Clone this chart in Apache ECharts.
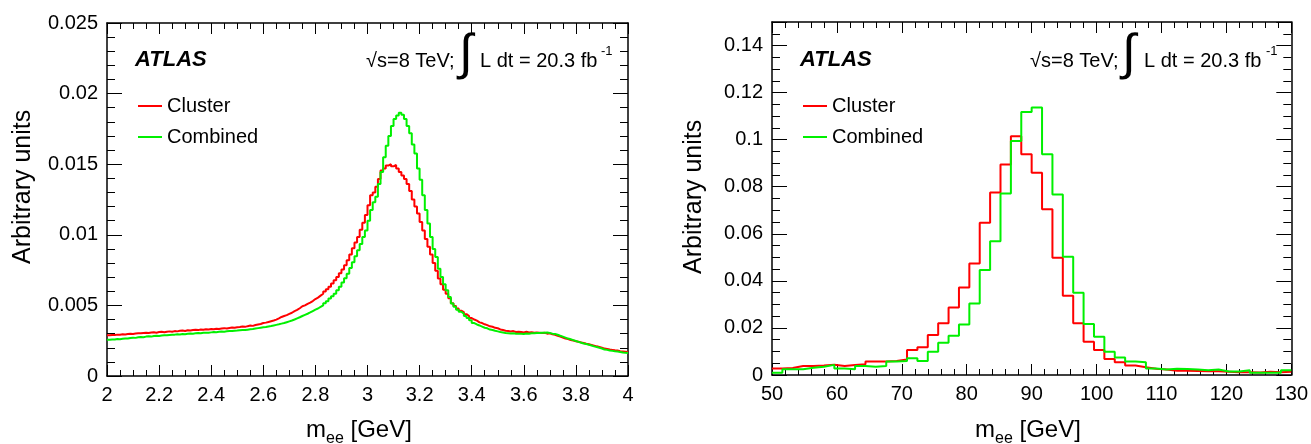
<!DOCTYPE html>
<html>
<head>
<meta charset="utf-8">
<script src="https://cdn.jsdelivr.net/npm/echarts@6/dist/echarts.min.js"></script>
<style>
html,body{margin:0;padding:0;background:#fff;}
#chart{width:1311px;height:444px;}
</style>
</head>
<body>
<div id="chart"></div>
<script>
// ---------------- DATA ----------------
const seriesNames = ['Cluster', 'Combined'];

// J/psi panel: 200 bins of 0.01 GeV from 2.0 to 4.0
const leftBinStart = 2.0;
const leftBinWidth = 0.01;
const leftCluster = [
0.00288,0.00291,0.00290,0.00293,0.00292,0.00295,0.00294,0.00297,0.00299,0.00297,0.00301,0.00303,
0.00302,0.00305,0.00307,0.00304,0.00308,0.00310,0.00307,0.00311,0.00313,0.00310,0.00314,0.00316,0.00313,
0.00318,0.00316,0.00320,0.00322,0.00319,0.00324,0.00322,0.00326,0.00328,0.00325,0.00329,0.00327,0.00331,
0.00330,0.00333,0.00331,0.00335,0.00333,0.00337,0.00339,0.00336,0.00340,0.00343,0.00341,0.00345,
0.00347,0.00350,0.00348,0.00353,0.00357,0.00355,0.00361,0.00365,0.00368,
0.00375,0.00378,0.00383,0.00388,0.00393,0.00399,0.00408,
0.00418,0.00425,0.00431,0.00440,0.00448,0.00459,0.00468,0.00480,
0.00494,0.00500,0.00511,0.00520,0.00531,0.00545,0.00555,0.00569,
0.00583,0.00598,0.00615,0.00632,0.00655,
0.00678,0.00701,0.00728,0.00755,0.00785,
0.00820,0.00860,0.00905,0.00945,
0.00985,0.01035,0.01085,
0.01140,0.01210,
0.01280,0.01300,0.01340,0.01395,
0.01455,0.01470,0.01490,
0.01500,0.01485,0.01495,0.01470,
0.01445,0.01420,0.01395,
0.01360,0.01310,
0.01250,0.01200,
0.01150,0.01090,
0.01030,0.00970,
0.00915,0.00860,
0.00800,0.00745,
0.00690,0.00650,
0.00610,
0.00583,0.00550,
0.00515,0.00495,0.00478,0.00462,
0.00453,0.00438,0.00425,0.00410,
0.00400,0.00392,0.00380,0.00375,0.00366,0.00360,
0.00352,0.00349,0.00341,0.00338,0.00330,0.00326,
0.00320,0.00318,0.00315,0.00318,0.00312,0.00314,
0.00312,0.00309,0.00313,0.00308,0.00310,0.00306,0.00308,
0.00307,0.00304,0.00306,0.00300,0.00302,
0.00295,0.00292,0.00285,0.00280,0.00272,
0.00265,0.00262,0.00255,0.00251,0.00246,0.00242,0.00238,
0.00234,0.00229,0.00225,0.00220,0.00215,0.00210,0.00206,0.00201,
0.00194,0.00192,0.00188,0.00185,0.00182,0.00180,0.00176,0.00174,0.00172,0.00170
];
const leftCombined = [
0.00256,0.00259,0.00258,0.00262,0.00261,0.00264,0.00266,0.00265,0.00269,0.00271,0.00270,0.00274,
0.00276,0.00275,0.00279,0.00281,0.00279,0.00283,0.00285,0.00284,0.00287,0.00289,0.00288,0.00291,0.00292,
0.00293,0.00295,0.00294,0.00297,0.00296,0.00299,0.00301,0.00300,0.00302,0.00304,0.00303,0.00306,0.00307,
0.00307,0.00309,0.00311,0.00310,0.00313,0.00315,0.00314,0.00317,0.00319,0.00318,0.00321,0.00322,
0.00324,0.00326,0.00325,0.00328,0.00331,0.00333,0.00336,0.00339,0.00342,
0.00345,0.00347,0.00351,0.00354,0.00358,0.00362,0.00366,
0.00371,0.00375,0.00381,0.00387,0.00393,0.00400,0.00408,0.00416,
0.00425,0.00433,0.00441,0.00450,0.00460,0.00470,0.00478,0.00489,
0.00500,0.00515,0.00530,0.00548,0.00565,
0.00583,0.00608,0.00632,0.00662,0.00692,
0.00725,0.00765,0.00805,0.00848,
0.00890,0.00935,0.00985,
0.01030,0.01100,
0.01175,0.01230,0.01270,0.01360,
0.01445,0.01550,0.01630,
0.01700,0.01770,0.01820,0.01845,
0.01865,0.01850,0.01820,
0.01770,0.01720,
0.01640,0.01575,
0.01470,0.01390,
0.01280,0.01175,
0.01080,0.00985,
0.00900,0.00843,
0.00760,0.00701,
0.00650,
0.00607,0.00560,
0.00513,0.00490,0.00470,0.00455,
0.00442,0.00425,0.00410,0.00395,
0.00375,0.00365,0.00358,0.00350,0.00342,0.00338,
0.00329,0.00326,0.00320,0.00316,0.00311,0.00308,
0.00305,0.00303,0.00301,0.00302,0.00300,0.00299,
0.00300,0.00298,0.00301,0.00300,0.00303,0.00302,0.00304,
0.00305,0.00307,0.00306,0.00308,0.00305,
0.00300,0.00298,0.00292,0.00285,0.00279,
0.00272,0.00265,0.00260,0.00254,0.00248,0.00242,0.00236,
0.00230,0.00226,0.00221,0.00216,0.00210,0.00205,0.00200,0.00195,
0.00187,0.00185,0.00181,0.00178,0.00175,0.00173,0.00170,0.00167,0.00165,0.00163
];

// Z panel: 50 bins of 1.6 GeV from 50 to 130
const rightBinStart = 50;
const rightBinWidth = 1.6;
const rightCluster = [
0.0028,0.0030,0.0038,0.0038,0.0040,0.0044,0.0038,0.0042,0.0046,0.0057,
0.0057,0.0060,0.0066,0.0106,0.0118,0.0170,0.0220,0.0287,0.0372,0.0474,
0.0647,0.0776,0.0895,0.1015,0.0938,0.0859,0.0704,0.0498,0.0337,0.0220,
0.0141,0.0106,0.0068,0.0054,0.0040,0.0033,0.0027,0.0023,0.0018,0.0018,
0.0017,0.0016,0.0016,0.0014,0.0012,0.0012,0.0011,0.0014,0.0012,0.0014
];
const rightCombined = [
0.0010,0.0024,0.0024,0.0031,0.0035,0.0043,0.0028,0.0024,0.0038,0.0035,
0.0038,0.0057,0.0060,0.0071,0.0060,0.0099,0.0137,0.0167,0.0215,0.0304,
0.0446,0.0568,0.0771,0.0994,0.1118,0.1137,0.0938,0.0767,0.0502,0.0350,
0.0217,0.0163,0.0099,0.0074,0.0057,0.0054,0.0028,0.0023,0.0027,0.0026,
0.0023,0.0020,0.0023,0.0015,0.0015,0.0020,0.0010,0.0010,0.0010,0.0020
];

// axis ranges / ticks
const leftX = {min: 2, max: 4, interval: 0.2, minor: 4};
const leftY = {min: 0, max: 0.025, interval: 0.005, minor: 5};
const rightX = {min: 50, max: 130, interval: 10, minor: 5};
const rightY = {min: 0, max: 0.15, interval: 0.02, minor: 4};

const xTitleText = ['m', 'ee', ' [GeV]'];
const yTitleText = 'Arbitrary units';
const atlasText = 'ATLAS';
const energyText = ['\u221As=8 TeV;', '\u222B', 'L dt = 20.3 fb', '-1'];

// ---------------- CHART ----------------
const FONT = '"Liberation Sans", Arial, Helvetica, sans-serif';
const RED = '#ff0000', GREEN = '#00f000';

function steps(start, w, vals) {
  const pts = vals.map((v, i) => [+(start + i * w).toFixed(4), v]);
  pts.push([+(start + vals.length * w).toFixed(4), vals[vals.length - 1]]);
  return pts;
}

function axis(kind, gridIndex, cfg, position, showLabel) {
  const isX = kind === 'x';
  return {
    type: 'value', gridIndex, position,
    min: cfg.min, max: cfg.max, interval: cfg.interval,
    axisLine: {show: true, onZero: false, lineStyle: {color: '#000', width: 1.5}},
    axisTick: {show: true, inside: true, length: isX ? 11 : 15, lineStyle: {color: '#000', width: 1}},
    minorTick: {show: true, splitNumber: cfg.minor, length: isX ? 6 : 8, lineStyle: {color: '#000', width: 1}},
    splitLine: {show: false},
    axisLabel: {show: showLabel, color: '#000', fontSize: 20, fontFamily: FONT, margin: 9,
                showMaxLabel: !(cfg === rightY)}
  };
}

function histSeries(name, color, xi, yi, data) {
  return {
    name, type: 'line', step: 'end', xAxisIndex: xi, yAxisIndex: yi,
    data, showSymbol: false, symbol: 'none', color,
    lineStyle: {color, width: 2}, itemStyle: {color}, animation: false, silent: true
  };
}

function legend(left) {
  return {
    data: seriesNames, orient: 'vertical', left, top: 96, icon: 'rect', padding: 0,
    itemWidth: 24, itemHeight: 2, itemGap: 11, selectedMode: false,
    textStyle: {fontSize: 20, color: '#000', fontFamily: FONT}
  };
}

function texts(cfg) {
  const els = [];
  els.push({type: 'text', left: cfg.atlasX, top: 49, style: {text: atlasText, font: 'italic bold 22px ' + FONT, fill: '#000'}});
  els.push({type: 'text', left: cfg.sqrtX, top: 51, style: {text: energyText[0], font: '20px ' + FONT, fill: '#000'}});
  els.push({type: 'text', left: cfg.intX, top: 30, style: {text: energyText[1], font: '50px ' + FONT, fill: '#000'}});
  els.push({type: 'text', left: cfg.lX, top: 51, style: {text: energyText[2], font: '20px ' + FONT, fill: '#000'}});
  els.push({type: 'text', left: cfg.supX, top: 45, style: {text: energyText[3], font: '13px ' + FONT, fill: '#000'}});
  els.push({type: 'text', left: cfg.xtX, top: 418, style: {
    text: '{m|' + xTitleText[0] + '}{s|' + xTitleText[1] + '}{m|' + xTitleText[2] + '}',
    rich: {m: {fontSize: 24, fontFamily: FONT, fill: '#000', verticalAlign: 'top', lineHeight: 28},
           s: {fontSize: 16, fontFamily: FONT, fill: '#000', verticalAlign: 'top', lineHeight: 28, padding: [13, 0, 0, 0]}}
  }});
  els.push({type: 'text', x: cfg.ytX, y: cfg.ytY, rotation: Math.PI / 2, style: {
    text: yTitleText, font: '25px ' + FONT, fill: '#000', align: 'left', verticalAlign: 'middle'}});
  return els;
}

const chart = echarts.init(document.getElementById('chart'), null, {renderer: 'canvas'});
chart.setOption({
  backgroundColor: '#fff',
  animation: false,
  grid: [
    {left: 107, right: 683, top: 23, bottom: 68},
    {left: 772, right: 19, top: 22, bottom: 69}
  ],
  xAxis: [
    axis('x', 0, leftX, 'bottom', true),
    axis('x', 0, leftX, 'top', false),
    axis('x', 1, rightX, 'bottom', true),
    axis('x', 1, rightX, 'top', false)
  ],
  yAxis: [
    axis('y', 0, leftY, 'left', true),
    axis('y', 0, leftY, 'right', false),
    axis('y', 1, rightY, 'left', true),
    axis('y', 1, rightY, 'right', false)
  ],
  legend: [legend(138), legend(803)],
  series: [
    histSeries(seriesNames[0], RED, 0, 0, steps(leftBinStart, leftBinWidth, leftCluster)),
    histSeries(seriesNames[1], GREEN, 0, 0, steps(leftBinStart, leftBinWidth, leftCombined)),
    histSeries(seriesNames[0], RED, 2, 2, steps(rightBinStart, rightBinWidth, rightCluster)),
    histSeries(seriesNames[1], GREEN, 2, 2, steps(rightBinStart, rightBinWidth, rightCombined))
  ],
  graphic: {elements: [].concat(
    texts({atlasX: 135, sqrtX: 366, intX: 459, lX: 480, supX: 601, xtX: 306, ytX: 23, ytY: 264}),
    texts({atlasX: 800, sqrtX: 1030, intX: 1122, lX: 1144, supX: 1266, xtX: 975, ytX: 694, ytY: 274})
  )}
});
</script>
</body>
</html>
